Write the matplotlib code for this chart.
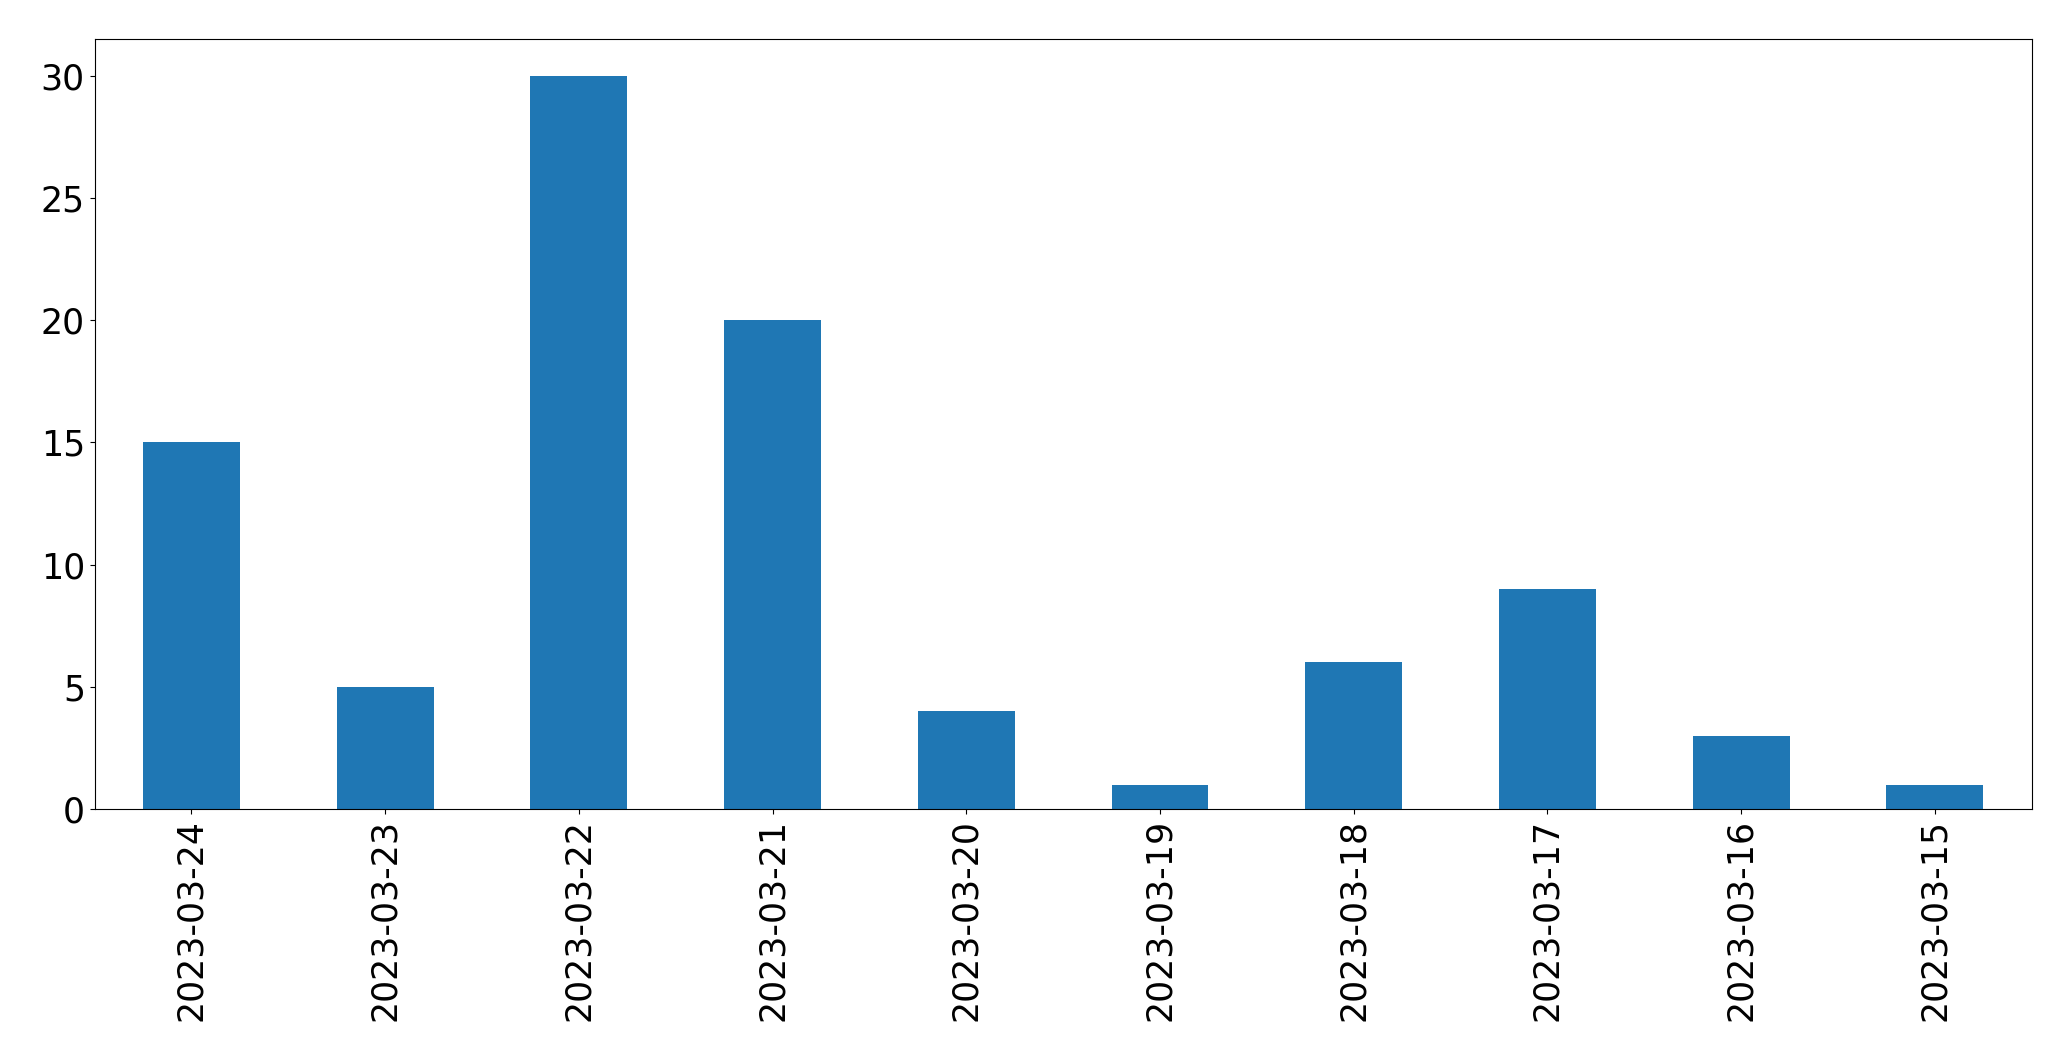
import matplotlib
matplotlib.use("Agg")
import matplotlib.pyplot as plt

dates = ["2023-03-24", "2023-03-23", "2023-03-22", "2023-03-21", "2023-03-20",
         "2023-03-19", "2023-03-18", "2023-03-17", "2023-03-16", "2023-03-15"]
counts = [15, 5, 30, 20, 4, 1, 6, 9, 3, 1]

fig = plt.figure(figsize=(20.71, 10.61), dpi=100)
ax = fig.add_axes([0.0457, 0.2375, 0.981 - 0.0457, 0.963 - 0.2375])
x = list(range(len(dates)))
ax.bar(x, counts, width=0.5, color="#1f77b4")
ax.set_xlim(-0.5, len(dates) - 0.5)
ax.set_ylim(0, max(counts) * 1.05)
ax.set_xticks(x)
ax.set_xticklabels(dates, rotation=90, fontsize=25)
ax.set_yticks([0, 5, 10, 15, 20, 25, 30])
ax.tick_params(axis="y", labelsize=25)
fig.savefig("out.png", dpi=100)
